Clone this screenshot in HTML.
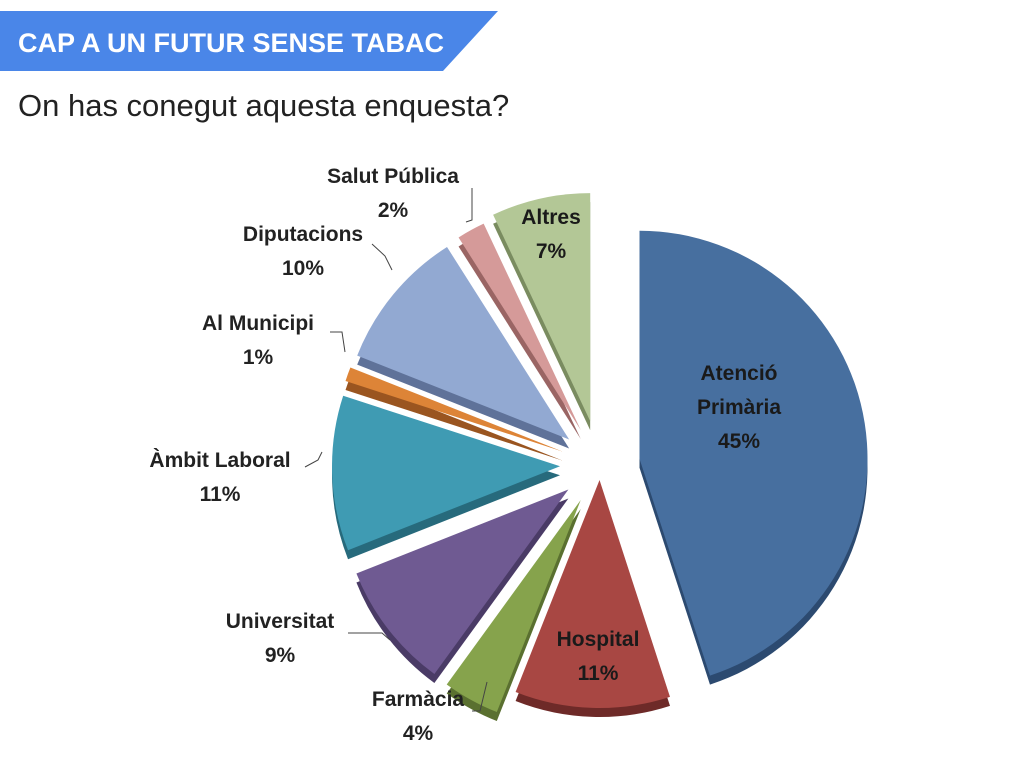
<!DOCTYPE html>
<html><head><meta charset="utf-8"><style>
body{margin:0;width:1024px;height:768px;background:#fff;overflow:hidden;font-family:"Liberation Sans",sans-serif;position:relative}
#banner{position:absolute;left:0;top:0}
#sub{position:absolute;left:18px;top:88px;font-size:31px;color:#222}
</style></head><body>
<svg id="banner" width="520" height="80">
<polygon points="0,11 498,11 443,71 0,71" fill="#4a86e8"/>
<text x="18" y="52" fill="#fff" font-size="27" font-weight="bold" font-family="Liberation Sans, sans-serif">CAP A UN FUTUR SENSE TABAC</text>
</svg>
<div id="sub">On has conegut aquesta enquesta?</div>
<svg id="pie" width="1024" height="768" style="position:absolute;left:0;top:0"></svg>
<script>
const categories=["Atenció Primària","Hospital","Farmàcia","Universitat","Àmbit Laboral","Al Municipi","Diputacions","Salut Pública","Altres"];
const values=[45,11,4,9,11,1,10,2,7];
const labels=["45%","11%","4%","9%","11%","1%","10%","2%","7%"];
const colors=["#476f9f","#a84743","#86a34c","#6f5a92","#3f9bb3","#dd8437","#92a9d2","#d59a99","#b3c796"];
const darks=["#2c4a70","#6e2a28","#5a7030","#4a3b66","#276a7c","#9a5520","#5f7299","#9a6564","#7a8c60"];
const explode=[40,15,40,40,40,40,40,40,45];
const labelPos=[[739,380,"middle",1],[598,646,"middle",1],[418,706,"middle",0],[280,628,"middle",0],[220,467,"middle",0],[258,330,"middle",0],[303,241,"middle",0],[393,183,"middle",0],[551,224,"middle",1]];
const NS="http://www.w3.org/2000/svg",svg=document.getElementById('pie');
const cx=600,cy=465,R=228;
const total=values.reduce((a,b)=>a+b,0);
function pt(x,y,a,r){return [x+r*Math.sin(a),y-r*Math.cos(a)];}
function path(x,y,a0,a1){const p0=pt(x,y,a0,R),p1=pt(x,y,a1,R);const large=(a1-a0)>Math.PI?1:0;
return `M${x},${y}L${p0[0]},${p0[1]}A${R},${R} 0 ${large} 1 ${p1[0]},${p1[1]}Z`;}
let acc=0;const slices=[];
values.forEach((v,i)=>{const a0=acc/total*2*Math.PI;acc+=v;const a1=acc/total*2*Math.PI;const m=(a0+a1)/2;
const [x,y]=pt(cx,cy,m,explode[i]);slices.push({a0,a1,x,y});});
slices.forEach((s,i)=>{const d=document.createElementNS(NS,'path');d.setAttribute('d',path(s.x,s.y+9,s.a0,s.a1));d.setAttribute('fill',darks[i]);


svg.appendChild(d);});
slices.forEach((s,i)=>{const d=document.createElementNS(NS,'path');d.setAttribute('d',path(s.x,s.y,s.a0,s.a1));d.setAttribute('fill',colors[i]);


svg.appendChild(d);});
// leader lines
const leaders=[[472,188,472,220,466,222],[372,244,385,256,392,270],[330,332,342,332,345,352],[305,467,318,460,322,452],[348,633,382,633,390,640],[472,711,480,711,487,682]];
leaders.forEach(l=>{const p=document.createElementNS(NS,'polyline');p.setAttribute('points',l.join(' '));p.setAttribute('fill','none');p.setAttribute('stroke','#444');p.setAttribute('stroke-width','1');


svg.appendChild(p);});
categories.forEach((c,i)=>{const [x,y,anc,inside]=labelPos[i];const t=document.createElementNS(NS,'text');
t.setAttribute('x',x);t.setAttribute('y',y);t.setAttribute('text-anchor',anc);t.setAttribute('font-size','21');t.setAttribute('font-weight','bold');
t.setAttribute('font-family','Liberation Sans, sans-serif');t.setAttribute('fill',inside?'#1a1a1a':'#222');


const lines=c==="Atenció Primària"?["Atenció","Primària",labels[i]]:[c,labels[i]];
lines.forEach((ln,k)=>{const ts=document.createElementNS(NS,'tspan');ts.setAttribute('x',x);ts.setAttribute('dy',k?34:0);ts.textContent=ln;t.appendChild(ts);});
svg.appendChild(t);});
</script>
</body></html>
